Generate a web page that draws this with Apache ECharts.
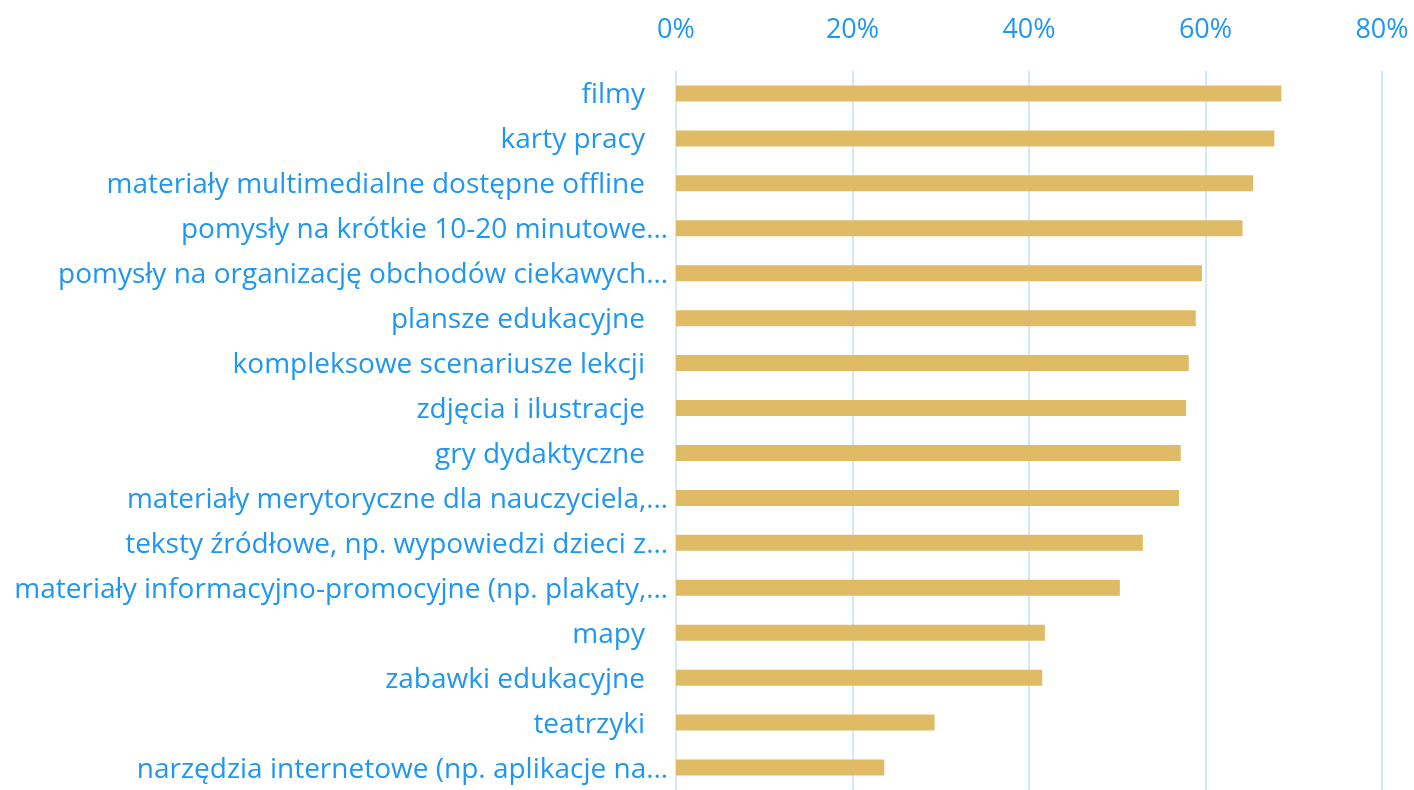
<!DOCTYPE html>
<html>
<head>
<meta charset="utf-8">
<script src="https://cdn.jsdelivr.net/npm/echarts@6/dist/echarts.min.js"></script>
<style>
  html, body { margin: 0; padding: 0; background: #fff; }
  #chart { width: 1414px; height: 790px; }
</style>
</head>
<body>
<div id="chart"></div>
<script>
const categories = [
  "filmy",
  "karty pracy",
  "materiały multimedialne dostępne offline",
  "pomysły na krótkie 10-20 minutowe…",
  "pomysły na organizację obchodów ciekawych…",
  "plansze edukacyjne",
  "kompleksowe scenariusze lekcji",
  "zdjęcia i ilustracje",
  "gry dydaktyczne",
  "materiały merytoryczne dla nauczyciela,…",
  "teksty źródłowe, np. wypowiedzi dzieci z…",
  "materiały informacyjno-promocyjne (np. plakaty,…",
  "mapy",
  "zabawki edukacyjne",
  "teatrzyki",
  "narzędzia internetowe (np. aplikacje na…"
];
const values = [0.686, 0.678, 0.654, 0.642, 0.596, 0.589, 0.581, 0.578, 0.572, 0.570, 0.529, 0.503, 0.418, 0.415, 0.293, 0.236];
const tickLabels = ["0%", "20%", "40%", "60%", "80%"];

const blue = "#1f97f0";
const font = "Open Sans";
const chart = echarts.init(document.getElementById("chart"));

chart.setOption({
  animation: false,
  grid: { left: 676, right: 32, top: 71, bottom: -8 },
  xAxis: {
    type: "value",
    position: "top",
    min: 0,
    max: 0.8,
    interval: 0.2,
    axisLine: { show: false },
    axisTick: { show: false },
    axisLabel: {
      color: blue,
      fontFamily: font,
      fontSize: 27,
      margin: 27,
      formatter: (v) => tickLabels[Math.round(v / 0.2)]
    },
    splitLine: { lineStyle: { color: "#d3e9fb", width: 2 } }
  },
  yAxis: {
    type: "category",
    inverse: true,
    data: categories,
    axisLine: { show: false },
    axisTick: { show: false },
    axisLabel: {
      margin: 8,
      // labels Excel cut off end with "…"; full labels sit a bit further left
      formatter: (v) => v.endsWith("…") ? "{t|" + v + "}" : "{f|" + v + "}",
      rich: {
        t: { color: blue, fontFamily: font, fontSize: 28, padding: [4, 0, 0, 0] },
        f: { color: blue, fontFamily: font, fontSize: 28, padding: [4, 23, 0, 0] }
      }
    }
  },
  series: [
    {
      type: "bar",
      data: values,
      barWidth: 16,
      itemStyle: { color: "#dfbb66" }
    }
  ]
});
</script>
</body>
</html>
